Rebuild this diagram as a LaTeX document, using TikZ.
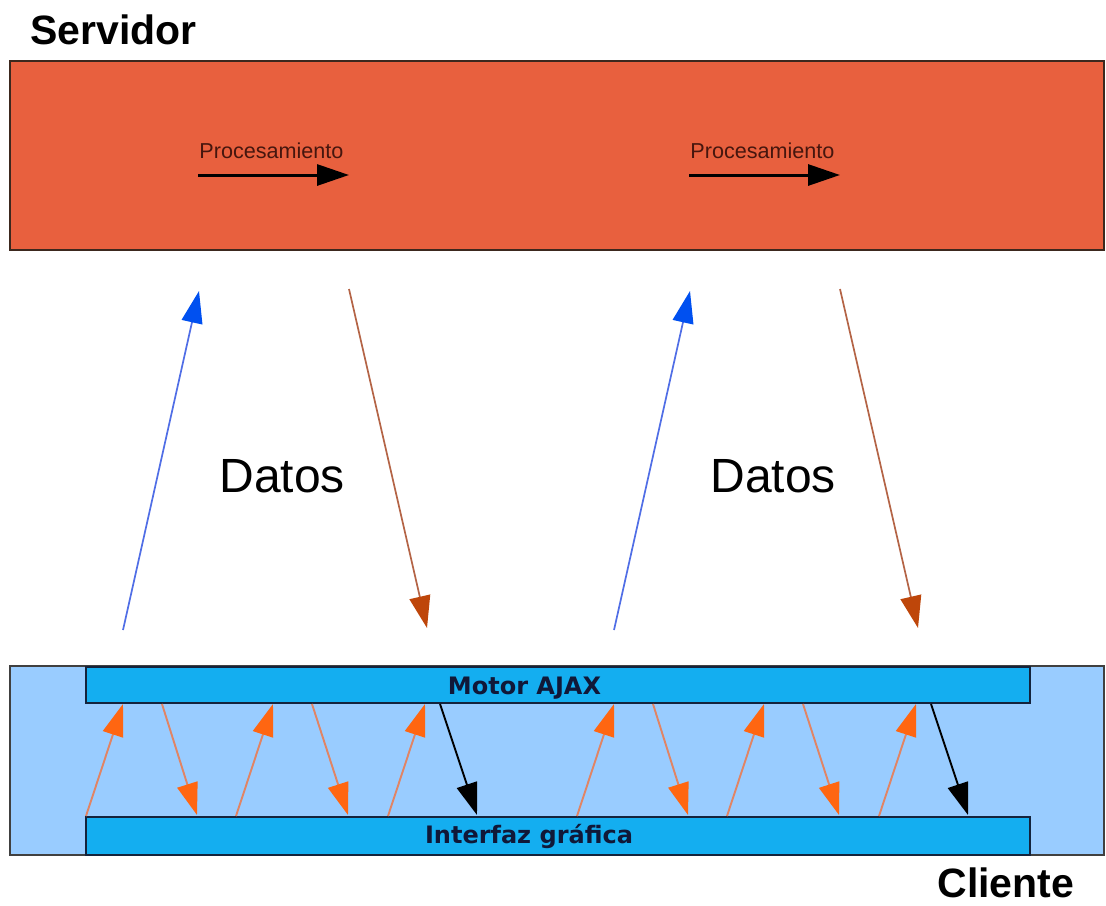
\documentclass[tikz,border=0pt]{standalone}
\usepackage{fontspec}
\setmainfont{Liberation Sans}
\newfontfamily\barfont{DejaVu Sans}
\usetikzlibrary{arrows.meta}
\definecolor{srvfill}{RGB}{232,96,62}
\definecolor{srvline}{RGB}{60,40,30}
\definecolor{clifill}{RGB}{153,204,255}
\definecolor{barfill}{RGB}{20,174,240}
\definecolor{barline}{RGB}{20,35,60}
\definecolor{bartext}{RGB}{16,24,56}
\definecolor{proctext}{RGB}{70,22,14}
\definecolor{upline}{RGB}{80,110,230}
\definecolor{uphead}{RGB}{0,80,240}
\definecolor{dnline}{RGB}{180,100,70}
\definecolor{dnhead}{RGB}{190,70,10}
\definecolor{orline}{RGB}{225,132,100}
\definecolor{orhead}{RGB}{255,102,17}
\tikzset{
  box/.style={draw, line width=0.75pt, inner sep=0pt, minimum width=547pt, minimum height=94.5pt},
  barbox/.style={draw=barline, fill=barfill, line width=0.75pt, inner sep=0pt, minimum width=472pt},
  bartxt/.style={anchor=base, inner sep=0pt, text=bartext, font=\barfont\bfseries\fontsize{12}{14}\selectfont},
  bigtitle/.style={anchor=base west, inner sep=0pt, font=\bfseries\fontsize{20.5}{24}\selectfont},
  datos/.style={anchor=base west, inner sep=0pt, font=\fontsize{24}{28}\selectfont},
  proc/.style={anchor=base west, inner sep=0pt, text=proctext, font=\fontsize{10.8}{12}\selectfont},
  tip/.style={-{Triangle[length=16pt,width=10.5pt,color=#1]}},
  procarrow/.style={line width=1.5pt, tip=black},
  uparrow/.style={draw=upline, line width=0.85pt, tip=uphead},
  dnarrow/.style={draw=dnline, line width=0.85pt, tip=dnhead},
  orarrow/.style={draw=orline, line width=0.95pt, tip=orhead},
  blkarrow/.style={draw=black, line width=0.95pt, tip=black},
}
\begin{document}
\begin{tikzpicture}[x=0.5pt,y=-0.5pt]
\useasboundingbox (0,0) rectangle (1106,905);
\fill[white] (0,0) rectangle (1106,905);

% Server
\node[bigtitle] (servidor) at (30,44) {Servidor};
\node[box, draw=srvline, fill=srvfill] (server) at (557,155.5) {};

% Client
\node[box, draw=black!75, fill=clifill] (client) at (557,760.5) {};
\node[barbox, minimum height=18pt] (motor) at (558,685) {};
\node[bartxt] (motortxt) at (524.5,694) {Motor AJAX};
\node[barbox, minimum height=19pt] (interfaz) at (558,836) {};
\node[bartxt] (interfaztxt) at (529,843) {Interfaz gráfica};
\node[bigtitle] (cliente) at (937,897) {Cliente};

\foreach \o in {0,491}{
  % Procesamiento
  \node[proc] (proc\o) at (199+\o,158) {Procesamiento};
  \coordinate (pa\o) at (198+\o,175);
  \coordinate (pb\o) at (349+\o,175);
  \draw[procarrow] (pa\o) -- (pb\o);
  % Datos
  \node[datos] (datos\o) at (219+\o,492) {Datos};
  % big arrows
  \coordinate (bs\o) at (123+\o,630);
  \coordinate (be\o) at (199+\o,291);
  \draw[uparrow] (bs\o) -- (be\o);
  \coordinate (ds\o) at (349+\o,289);
  \coordinate (de\o) at (427+\o,628);
  \draw[dnarrow] (ds\o) -- (de\o);
  % client arrows
  \coordinate (u1s\o) at (86+\o,816);  \coordinate (u1e\o) at (123+\o,704);
  \coordinate (d1s\o) at (162+\o,704); \coordinate (d1e\o) at (197+\o,815);
  \coordinate (u2s\o) at (236+\o,816); \coordinate (u2e\o) at (273+\o,704);
  \coordinate (d2s\o) at (312+\o,704); \coordinate (d2e\o) at (348+\o,815);
  \coordinate (u3s\o) at (388+\o,816); \coordinate (u3e\o) at (425+\o,704);
  \coordinate (k1s\o) at (440+\o,704); \coordinate (k1e\o) at (477+\o,815);
  \draw[orarrow] (u1s\o) -- (u1e\o);
  \draw[orarrow] (d1s\o) -- (d1e\o);
  \draw[orarrow] (u2s\o) -- (u2e\o);
  \draw[orarrow] (d2s\o) -- (d2e\o);
  \draw[orarrow] (u3s\o) -- (u3e\o);
  \draw[blkarrow] (k1s\o) -- (k1e\o);
}
\end{tikzpicture}
\end{document}
